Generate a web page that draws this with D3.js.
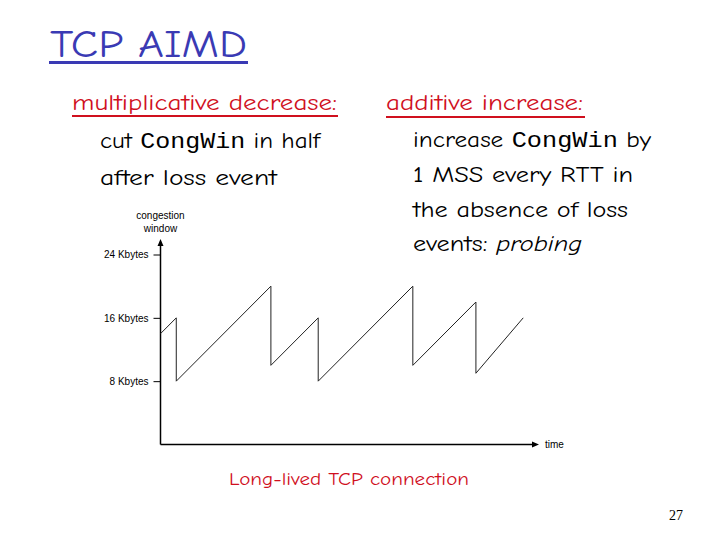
<!DOCTYPE html>
<html><head><meta charset="utf-8">
<script src="https://cdn.jsdelivr.net/npm/d3@7"></script>
<style>
html,body{margin:0;padding:0;background:#fff;}
svg{display:block;}
</style></head>
<body>
<svg id="c" width="720" height="540"></svg>
<script>
// ---- data ----
const time = [0, 2, 2, 14, 14, 20, 20, 32, 32, 40, 40, 46];
const cwnd = [14, 16, 8, 20, 10, 16, 8, 20, 10, 18, 9, 16];
const yTicks = [8, 16, 24];
const yTickLabels = ["8 Kbytes", "16 Kbytes", "24 Kbytes"];

const svg = d3.select("#c");
const comic = "'Comic Sans MS','Comic Neue','DejaVu Sans',sans-serif";
const mono = "'Liberation Mono','Courier New',monospace";
const blue = "#3a3ab4", red = "#d0101e";

// ---- helper for fitted text ----
function txt(x, y, parts, opts) {
  const t = svg.append("text").attr("x", x).attr("y", y)
    .attr("font-family", comic).attr("font-size", opts.size)
    .attr("fill", opts.fill || "#000");
  if (opts.len) t.attr("textLength", opts.len).attr("lengthAdjust", "spacingAndGlyphs");
  parts.forEach(p => {
    const s = t.append("tspan").text(p.t);
    if (p.mono) s.attr("font-family", mono);
    if (p.it) s.attr("font-style", "italic");
  });
  return t;
}

// Title
txt(50, 57, [{t: "TCP AIMD"}], {size: 38, fill: blue, len: 197});
svg.append("rect").attr("x", 49).attr("y", 61).attr("width", 199).attr("height", 3).attr("fill", blue);

// Left block
txt(72, 110, [{t: "multiplicative decrease:"}], {size: 22, fill: red, len: 265});
svg.append("rect").attr("x", 72).attr("y", 115).attr("width", 266).attr("height", 2).attr("fill", red);
txt(100, 148, [{t: "cut "}, {t: "CongWin", mono: true}, {t: " in half"}], {size: 22, len: 220});
txt(100, 185, [{t: "after loss event"}], {size: 22, len: 177});

// Right block
txt(386, 110, [{t: "additive increase:"}], {size: 22, fill: red, len: 197});
svg.append("rect").attr("x", 386).attr("y", 116).attr("width", 199).attr("height", 2).attr("fill", red);
txt(413, 147, [{t: "increase  "}, {t: "CongWin", mono: true}, {t: " by"}], {size: 22, len: 238});
txt(413, 182, [{t: "1 MSS every RTT in"}], {size: 22, len: 220});
txt(413, 217, [{t: "the absence of loss"}], {size: 22, len: 215});
txt(413, 251, [{t: "events: "}, {t: "probing", it: true}], {size: 22, len: 169});

// Bottom caption
txt(229, 485, [{t: "Long-lived TCP connection"}], {size: 19, fill: red, len: 240});
svg.append("text").attr("x", 669).attr("y", 520).attr("font-family", "'Liberation Serif','Times New Roman',serif")
  .attr("font-size", 14).attr("fill", "#000").text("27");

// ---- chart ----
const x = d3.scaleLinear().domain([0, 48]).range([160.5, 539]);
const y = d3.scaleLinear().domain([0, 24]).range([444.5, 254.5]);

const g = svg.append("g");
const axisF = "'Liberation Sans',Arial,sans-serif";

// y axis ticks
const ya = d3.axisLeft(y).tickValues(yTicks).tickSize(7).tickPadding(5)
  .tickFormat((d, i) => yTickLabels[i]);
const yg = g.append("g").attr("transform", `translate(${x(0)},0)`).call(ya);
yg.select(".domain").remove();
yg.selectAll("line").attr("stroke", "#000");
yg.selectAll("text").attr("font-family", axisF).attr("font-size", 10).attr("fill", "#000");

// axes with arrows
g.append("line").attr("x1", x(0)).attr("x2", x(0)).attr("y1", y(0)).attr("y2", 244)
  .attr("stroke", "#000").attr("stroke-width", 1.5);
g.append("path").attr("d", `M${x(0)},239 L${x(0) - 3},246 L${x(0) + 3},246 Z`).attr("fill", "#000");
g.append("line").attr("x1", x(0)).attr("x2", 533).attr("y1", y(0)).attr("y2", y(0))
  .attr("stroke", "#000").attr("stroke-width", 1.5);
g.append("path").attr("d", `M539,${y(0)} L532,${y(0) - 3} L532,${y(0) + 3} Z`).attr("fill", "#000");

// axis labels
g.append("text").attr("x", 160.5).attr("y", 219).attr("text-anchor", "middle")
  .attr("font-family", axisF).attr("font-size", 10).text("congestion");
g.append("text").attr("x", 160.5).attr("y", 232).attr("text-anchor", "middle")
  .attr("font-family", axisF).attr("font-size", 10).text("window");
g.append("text").attr("x", 545).attr("y", 448)
  .attr("font-family", axisF).attr("font-size", 10).text("time");

// sawtooth line
const pts = time.map((t, i) => [t, cwnd[i]]);
g.append("path").datum(pts)
  .attr("d", d3.line().x(d => x(d[0])).y(d => y(d[1])))
  .attr("fill", "none").attr("stroke", "#222").attr("stroke-width", 1);
</script>
</body></html>
